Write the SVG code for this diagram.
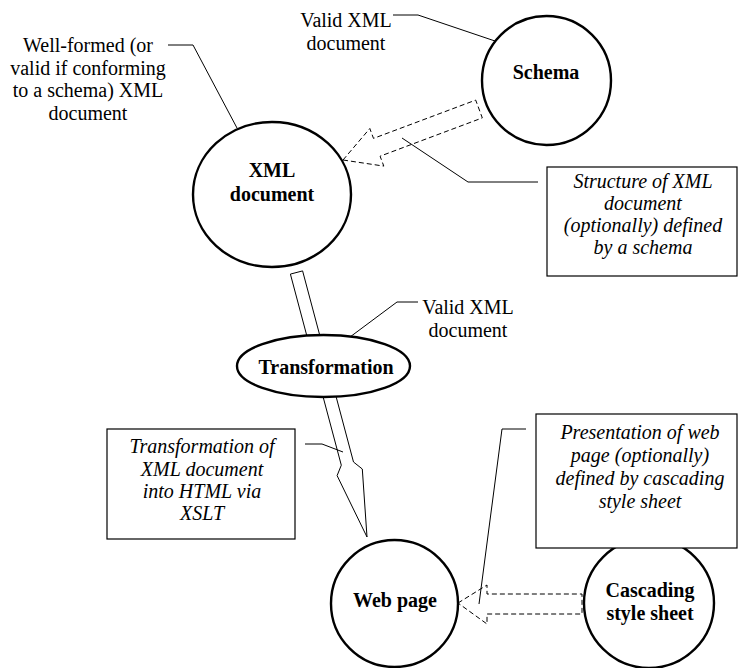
<svg xmlns="http://www.w3.org/2000/svg" width="738" height="668" viewBox="0 0 738 668">
<style>
.node{fill:#fff;stroke:#000;stroke-width:2.4}
.box{fill:#fff;stroke:#000;stroke-width:1.2}
.lead{fill:none;stroke:#000;stroke-width:1}
.arr{fill:#fff;stroke:#000;stroke-width:1}
.dash{fill:#fff;stroke:#000;stroke-width:1;stroke-dasharray:5,3}
text{font-family:"Liberation Serif","Times New Roman",serif;font-size:20px;fill:#000;text-anchor:middle}
.b{font-weight:bold}
.i{font-style:italic}
</style>
<rect width="738" height="668" fill="#fff"/>
<g id="connectors">
<polygon class="arr" points="290.4,274.1 302.6,270.9 353.5,462 362.3,469 367,537 337.1,475.6 341.3,465.2"/>
<polygon class="dash" points="343,160 369.8,128.5 373.5,138.4 475.7,100.1 482.3,117.9 380.1,156.2 383.8,166.1"/>
<polygon class="dash" points="458,603 487,585 487,594 582,594 582,614 487,614 487,624"/>
<polyline class="lead" points="168,45 193,45 237,128"/>
<polyline class="lead" points="393,15 418,15 495,41"/>
<polyline class="lead" points="538,182 468,182 402,138"/>
<polyline class="lead" points="418,302 397,302 350,337"/>
<polyline class="lead" points="305,444 322,444 343,452"/>
<polyline class="lead" points="526,429 502,429 479,604"/>
</g>
<g id="xml-document">
<ellipse class="node" cx="272" cy="194.5" rx="79" ry="72.5"/>
<text class="b" x="272" y="177">XML</text>
<text class="b" x="272" y="201">document</text>
</g>
<g id="schema">
<circle class="node" cx="546.5" cy="80.5" r="64.5"/>
<text class="b" x="546" y="79">Schema</text>
</g>
<g id="transformation">
<ellipse class="node" cx="323.5" cy="366" rx="86.5" ry="31"/>
<text class="b" x="326" y="374">Transformation</text>
</g>
<g id="web-page">
<circle class="node" cx="394.5" cy="603.5" r="63.5"/>
<text class="b" x="395" y="607">Web page</text>
</g>
<g id="cascading-style-sheet">
<circle class="node" cx="649" cy="603" r="65"/>
<text class="b" x="650" y="597">Cascading</text>
<text class="b" x="650" y="620">style sheet</text>
</g>
<g id="label-wellformed">
<text x="88" y="52">Well-formed (or</text>
<text x="88" y="74.5">valid if conforming</text>
<text x="88" y="97">to a schema) XML</text>
<text x="88" y="119.5">document</text>
</g>
<g id="label-valid-top">
<text x="346" y="27">Valid XML</text>
<text x="346" y="50">document</text>
</g>
<g id="label-valid-mid">
<text x="468" y="314">Valid XML</text>
<text x="468" y="337">document</text>
</g>
<g id="note-structure">
<rect class="box" x="547" y="167" width="190" height="109"/>
<text class="i" x="643" y="188">Structure of XML</text>
<text class="i" x="643" y="210">document</text>
<text class="i" x="643" y="232">(optionally) defined</text>
<text class="i" x="643" y="254">by a schema</text>
</g>
<g id="note-transformation">
<rect class="box" x="107" y="429" width="188" height="110"/>
<text class="i" x="202" y="453">Transformation of</text>
<text class="i" x="202" y="476">XML document</text>
<text class="i" x="202" y="498">into HTML via</text>
<text class="i" x="202" y="520">XSLT</text>
</g>
<g id="note-presentation">
<rect class="box" x="536" y="414" width="201" height="134"/>
<text class="i" x="640" y="439">Presentation of web</text>
<text class="i" x="640" y="462">page (optionally)</text>
<text class="i" x="640" y="485">defined by cascading</text>
<text class="i" x="640" y="508">style sheet</text>
</g>
</svg>
